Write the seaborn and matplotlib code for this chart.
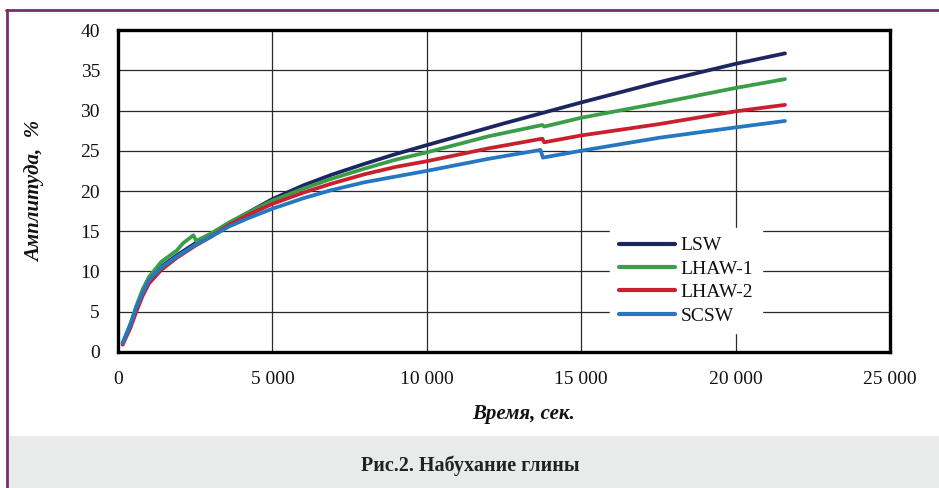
import seaborn as sns
import pandas as pd
import matplotlib.pyplot as plt
from matplotlib.lines import Line2D
from matplotlib.patches import Rectangle
from matplotlib.ticker import MultipleLocator, FuncFormatter

# time, s
t_lsw = [150, 400, 600, 800, 1000, 1400, 1900, 2500, 3000, 3600, 4200, 5000, 6000,
         6900, 8000, 9000, 10000, 12500, 15000, 17500, 20000, 21600]
lsw = [1.1, 3.3, 5.5, 7.4, 8.8, 10.6, 12.0, 13.5, 14.6, 16.0, 17.3, 19.0, 20.7,
       22.0, 23.4, 24.6, 25.7, 28.4, 31.0, 33.5, 35.8, 37.1]

t_lhaw1 = [150, 400, 600, 800, 1000, 1400, 1900, 2100, 2440, 2530, 3000, 3600, 4200,
           5000, 6000, 6900, 8000, 9000, 10000, 12000, 13740, 13800, 15000, 17500,
           20000, 21600]
lhaw1 = [1.1, 3.5, 5.8, 7.8, 9.3, 11.2, 12.6, 13.5, 14.5, 13.8, 14.7, 16.1, 17.3,
         18.8, 20.3, 21.5, 22.8, 23.9, 24.8, 26.8, 28.2, 28.0, 29.1, 30.9,
         32.8, 33.9]

t_lhaw2 = [150, 400, 600, 800, 1000, 1400, 1900, 2500, 3000, 3600, 4200, 5000, 6000,
           6900, 8000, 9000, 10000, 12000, 13740, 13800, 15000, 17500, 20000, 21600]
lhaw2 = [0.9, 3.0, 5.1, 7.0, 8.5, 10.2, 11.7, 13.2, 14.3, 15.8, 17.0, 18.4, 19.8,
         20.9, 22.1, 23.0, 23.7, 25.3, 26.5, 26.05, 26.9, 28.3, 29.9, 30.7]

t_scsw = [150, 400, 600, 800, 1000, 1400, 1900, 2500, 3000, 3600, 4200, 5000, 6000,
          6900, 8000, 9000, 10000, 12000, 13680, 13760, 15000, 17500, 20000, 21600]
scsw = [1.1, 3.4, 5.6, 7.4, 8.95, 10.5, 11.85, 13.3, 14.3, 15.6, 16.6, 17.8, 19.1,
        20.1, 21.1, 21.8, 22.5, 24.0, 25.1, 24.15, 25.0, 26.6, 27.9, 28.7]

names = ["LSW", "LHAW-1", "LHAW-2", "SCSW"]
colors = ["#1c2660", "#3a9e48", "#c9202d", "#2477c0"]


def build_frame():
    parts = []
    for name, t, v in zip(names, [t_lsw, t_lhaw1, t_lhaw2, t_scsw], [lsw, lhaw1, lhaw2, scsw]):
        parts.append(pd.DataFrame({"t": t, "amp": v, "sample": name}))
    return pd.concat(parts, ignore_index=True)


def plot_swelling(data, filename):
    fig = plt.figure(figsize=(9.39, 4.88), dpi=100)
    ax = fig.add_axes([0.1257, 0.2787, 0.8221, 0.6598])

    sns.lineplot(data=data, x="t", y="amp", hue="sample", hue_order=names,
                 palette=dict(zip(names, colors)), estimator=None, sort=False,
                 linewidth=2.7, ax=ax)

    ax.set_xlim(0, 25000)
    ax.set_ylim(0, 40)
    ax.xaxis.set_major_locator(MultipleLocator(5000))
    ax.yaxis.set_major_locator(MultipleLocator(5))
    ax.xaxis.set_major_formatter(FuncFormatter(lambda x, p: f"{int(x):,}".replace(",", " ")))
    ax.grid(True, color="#2a2a2a", linewidth=0.9)
    ax.set_axisbelow(True)
    for s in ax.spines.values():
        s.set_linewidth(2.4)
        s.set_color("black")
    ax.tick_params(direction="out", length=5, width=1.4, labelsize=14, color="black")
    ax.tick_params(axis="y", pad=8)
    ax.tick_params(axis="x", pad=9)

    ax.set_xlabel("Время, сек.", fontsize=15, fontweight="bold", fontstyle="italic")
    ax.set_ylabel("Амплитуда,  %", fontsize=15, fontweight="bold", fontstyle="italic")
    ax.xaxis.label.set_va("center")
    ax.yaxis.label.set_va("center")
    ax.xaxis.set_label_coords(0.525, -0.193)
    ax.yaxis.set_label_coords(-0.108, 0.5)

    handles, labels = ax.get_legend_handles_labels()
    leg = ax.legend(handles, labels, loc="upper left", bbox_to_anchor=(0.637, 0.385),
                    borderaxespad=0, fontsize=14, handlelength=2.9, handletextpad=0.3,
                    labelspacing=0.3, borderpad=0.45, frameon=True, fancybox=False)
    leg.get_frame().set_facecolor("white")
    leg.get_frame().set_edgecolor("white")
    leg.get_frame().set_alpha(1)
    for line in leg.get_lines():
        line.set_linewidth(3)

    # caption band and page border
    fig.patches.append(Rectangle((9 / 939, 0), 1, 52 / 488, transform=fig.transFigure,
                                 facecolor="#e9ebeb", edgecolor="none", zorder=0))
    fig.text(470 / 939, 1 - 466 / 488, "Рис.2. Набухание глины", ha="center", va="center",
             fontsize=14.5, fontweight="bold", color="#222222")
    border = "#7b2c6c"
    fig.add_artist(Line2D([6 / 939, 1], [1 - 10 / 488, 1 - 10 / 488], color=border, linewidth=2))
    fig.add_artist(Line2D([7 / 939, 7 / 939], [0, 1 - 10 / 488], color=border, linewidth=2))

    plt.savefig(filename, dpi=100)


def main():
    sns.set_theme(style="white", rc={"axes.edgecolor": "black"})
    plt.rcParams["font.family"] = ["Liberation Serif", "DejaVu Serif"]
    plt.rcParams["text.color"] = "#111111"
    plt.rcParams["xtick.color"] = "#111111"
    plt.rcParams["ytick.color"] = "#111111"
    plt.rcParams["axes.labelcolor"] = "#111111"
    plot_swelling(build_frame(), "out.png")


if __name__ == "__main__":
    main()
